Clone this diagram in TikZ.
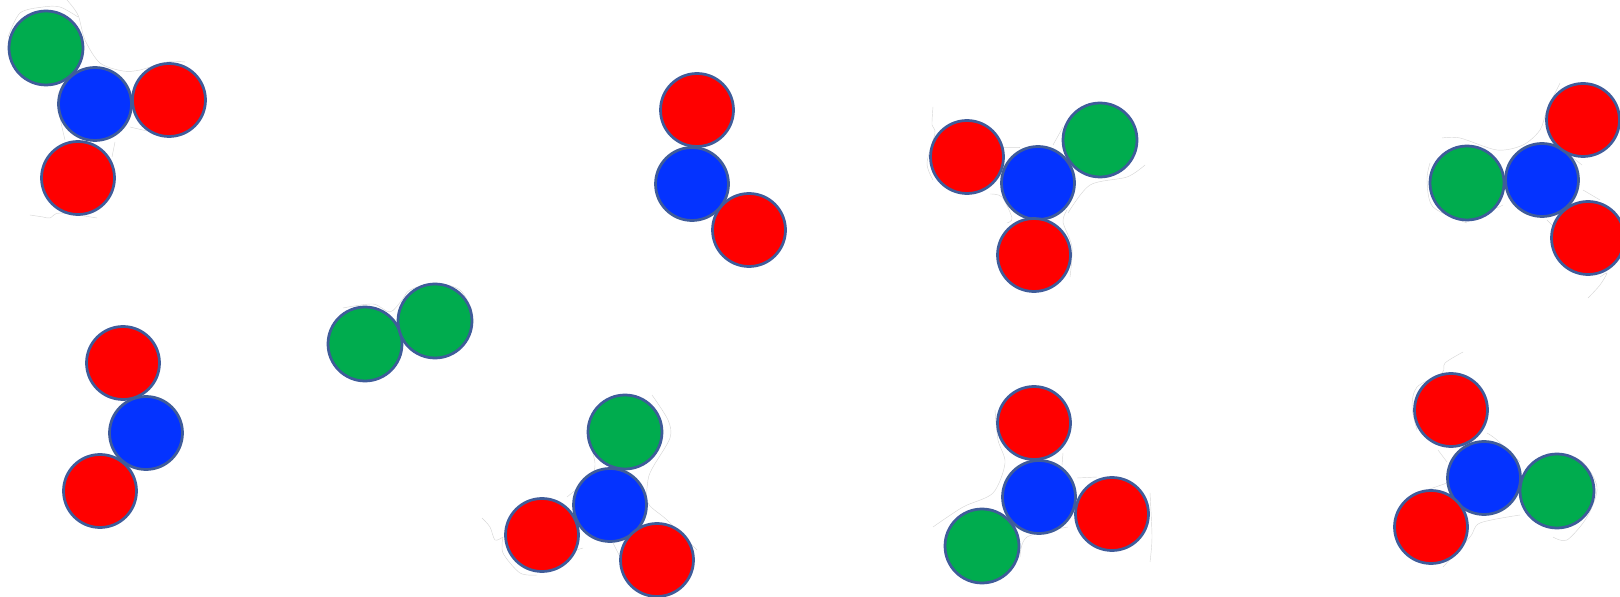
\documentclass[tikz,border=0pt]{standalone}
\usepackage{tikz}
\definecolor{ballred}{HTML}{FF0000}
\definecolor{ballblue}{HTML}{0433FF}
\definecolor{ballgreen}{HTML}{00AC4E}
\definecolor{ballrim}{HTML}{3F5C9A}

\begin{document}
\begin{tikzpicture}[
  x=0.02cm,y=-0.02cm,
  ball/.style={circle,draw=ballrim,line width=0.055cm,inner sep=0pt},
  redball/.style={ball,fill=ballred,minimum size=1.46cm},
  blueball/.style={ball,fill=ballblue,minimum size=1.46cm},
  greenball/.style={ball,fill=ballgreen,minimum size=1.48cm},
  trace/.style={draw=black!16,line width=0.25pt},
]
\useasboundingbox (0,0) rectangle (1620,597);

% Faint outlines behind the balls
\draw[trace] plot[smooth] coordinates {(67,0) (78,15) (85,40) (100,63) (123,71) (140,70) (167,62) (185,62)};
\draw[trace] plot[smooth] coordinates {(8,37) (20,13) (43,7) (60,7) (78,17)};
\draw[trace] plot[smooth] coordinates {(130,127) (147,131)};
\draw[trace] plot[smooth] coordinates {(115,142) (112,157)};
\draw[trace] plot[smooth] coordinates {(65,140) (60,117) (58,92)};
\draw[trace] plot[smooth] coordinates {(30,215) (43,217) (50,218) (60,213) (97,218)};

\draw[trace] plot[smooth] coordinates {(933,107) (932,125) (935,133) (927,163) (933,180)};
\draw[trace] plot[smooth] coordinates {(1003,147) (1020,147)};
\draw[trace] plot[smooth] coordinates {(1053,145) (1063,127)};
\draw[trace] plot[smooth] coordinates {(990,194) (1002,197) (1012,218) (1007,223)};
\draw[trace] plot[smooth] coordinates {(1068,213) (1090,185) (1127,177) (1145,165)};
\draw[trace] plot[smooth] coordinates {(1067,210) (1063,222) (1072,247) (1070,277)};

\draw[trace] plot[smooth] coordinates {(1442,138) (1460,138) (1497,150) (1523,145) (1540,130) (1547,110) (1560,83)};
\draw[trace] plot[smooth] coordinates {(1582,165) (1572,157)};
\draw[trace] plot[smooth] coordinates {(1583,190) (1600,200)};
\draw[trace] plot[smooth] coordinates {(1547,220) (1557,230)};
\draw[trace] plot[smooth] coordinates {(1430,163) (1427,180) (1433,207) (1467,223)};
\draw[trace] plot[smooth] coordinates {(1503,205) (1497,208)};
\draw[trace] plot[smooth] coordinates {(1600,277) (1607,273) (1600,285) (1588,298)};

\draw[trace] plot[smooth] coordinates {(343,308) (373,304) (390,312) (402,300) (410,290) (435,283) (460,290) (472,310)};

\draw[trace] plot[smooth] coordinates {(482,518) (490,527) (495,540) (503,537)};
\draw[trace] plot[smooth] coordinates {(503,537) (503,553) (520,573) (537,575)};
\draw[trace] plot[smooth] coordinates {(652,395) (668,420) (670,438) (653,467) (648,480) (648,503) (667,520) (697,550)};
\draw[trace] plot[smooth] coordinates {(587,433) (595,463) (590,477) (567,497)};
\draw[trace] plot[smooth] coordinates {(613,543) (620,557)};
\draw[trace] plot[smooth] coordinates {(570,552) (583,548)};

\draw[trace] plot[smooth] coordinates {(995,410) (998,440) (1005,463) (993,493) (963,507) (933,527)};
\draw[trace] plot[smooth] coordinates {(1063,453) (1062,465)};
\draw[trace] plot[smooth] coordinates {(1077,478) (1097,477)};
\draw[trace] plot[smooth] coordinates {(1150,493) (1152,537) (1150,562)};
\draw[trace] plot[smooth] coordinates {(1068,527) (1027,537) (1020,557)};

\draw[trace] plot[smooth] coordinates {(1463,352) (1445,363) (1442,373) (1417,387) (1412,407) (1417,430)};
\draw[trace] plot[smooth] coordinates {(1438,450) (1447,462)};
\draw[trace] plot[smooth] coordinates {(1487,433) (1497,440) (1520,462)};
\draw[trace] plot[smooth] coordinates {(1447,483) (1427,490)};
\draw[trace] plot[smooth] coordinates {(1520,515) (1480,523) (1470,537) (1443,567)};
\draw[trace] plot[smooth] coordinates {(1547,453) (1580,460) (1597,487) (1587,517) (1567,540) (1553,537)};

% === TOP LEFT ===
\node[greenball] (gA) at (46,48) {};
\node[blueball] (bA) at (95,104) {};
\node[redball] (rA) at (169,100) {};
\node[redball] (sA) at (78,178) {};

% === TOP MIDDLE ===
\node[redball] (rB) at (697,110) {};
\node[blueball] (bB) at (692,184) {};
\node[redball] (sB) at (749,230) {};

% === TOP RIGHT ===
\node[redball] (rC) at (967,157) {};
\node[blueball] (bC) at (1038,183) {};
\node[greenball] (gC) at (1100,140) {};
\node[redball] (sC) at (1034,255) {};

% === FAR RIGHT ===
\node[greenball] (gD) at (1467,183) {};
\node[blueball] (bD) at (1542,180) {};
\node[redball] (rD) at (1583,120) {};
\node[redball] (sD) at (1588,238) {};

% === BOTTOM LEFT ===
\node[redball] (rE) at (123,363) {};
\node[blueball] (bE) at (146,433) {};
\node[redball] (sE) at (100,491) {};

% === GREEN PAIR ===
\node[greenball] (gF) at (365,344) {};
\node[greenball] (hF) at (435,321) {};

% === BOTTOM MIDDLE ===
\node[greenball] (gG) at (625,432) {};
\node[blueball] (bG) at (610,505) {};
\node[redball] (rG) at (542,535) {};
\node[redball] (sG) at (657,560) {};

% === BOTTOM RIGHT ===
\node[redball] (rH) at (1034,423) {};
\node[blueball] (bH) at (1039,497) {};
\node[redball] (sH) at (1112,514) {};
\node[greenball] (gH) at (982,546) {};

% === FAR BOTTOM RIGHT ===
\node[redball] (rI) at (1451,410) {};
\node[blueball] (bI) at (1484,478) {};
\node[greenball] (gI) at (1557,491) {};
\node[redball] (sI) at (1431,527) {};

\end{tikzpicture}
\end{document}
